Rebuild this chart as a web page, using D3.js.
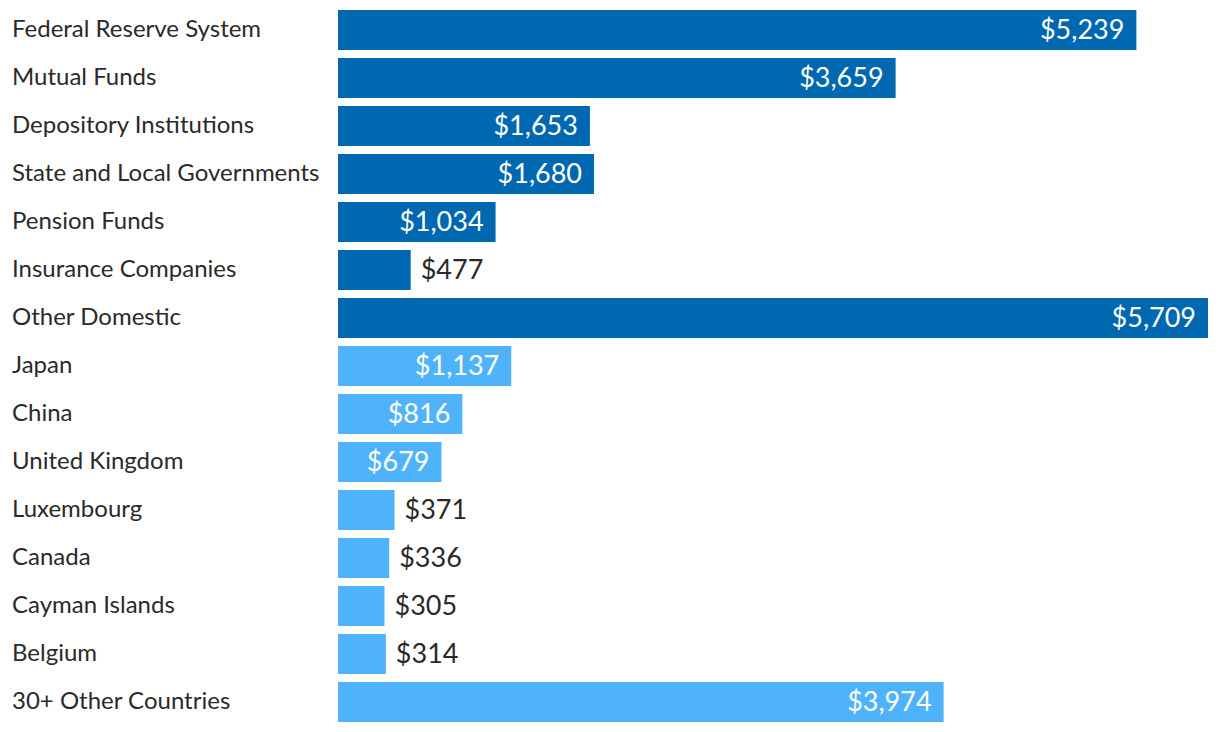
<!DOCTYPE html>
<html><head><meta charset="utf-8">
<script src="https://cdn.jsdelivr.net/npm/d3@7"></script>
<style>body{margin:0;background:#fff;} svg{display:block;}</style>
</head><body>
<svg id="c" width="1220" height="732"></svg>
<script>
const categories = ["Federal Reserve System","Mutual Funds","Depository Institutions","State and Local Governments","Pension Funds","Insurance Companies","Other Domestic","Japan","China","United Kingdom","Luxembourg","Canada","Cayman Islands","Belgium","30+ Other Countries"];
const values = [5239,3659,1653,1680,1034,477,5709,1137,816,679,371,336,305,314,3974];
const groups = ["domestic","domestic","domestic","domestic","domestic","domestic","domestic","foreign","foreign","foreign","foreign","foreign","foreign","foreign","foreign"];
const colors = {domestic:"#0068b1", foreign:"#4fb3fb"};

const svg = d3.select("#c");
const x = d3.scaleLinear().domain([0, d3.max(values)]).range([338, 1208]);
const y = d3.scaleBand().domain(categories).range([10, 722]).paddingInner(8/48).paddingOuter(0);
const data = categories.map((c,i)=>({c, v:values[i], g:groups[i]}));
const fmt = d3.format("$,");

svg.selectAll("text.cat").data(data).join("text")
  .attr("class","cat")
  .attr("x",12).attr("y",d=>y(d.c)+y.bandwidth()/2+7)
  .style("font-family","Lato, sans-serif").style("font-size","24px").style("fill","#2a2a2a")
  .text(d=>d.c);

svg.selectAll("rect.bar").data(data).join("rect")
  .attr("class","bar")
  .attr("x",x(0)).attr("y",d=>y(d.c))
  .attr("width",d=>x(d.v)-x(0)).attr("height",y.bandwidth())
  .attr("fill",d=>colors[d.g]);

svg.selectAll("text.val").data(data).join("text")
  .attr("class","val")
  .attr("y",d=>y(d.c)+y.bandwidth()/2+8.5)
  .style("font-family","Lato, sans-serif").style("font-size","27px")
  .text(d=>fmt(d.v))
  .each(function(d){
    const w = this.getComputedTextLength();
    const bw = x(d.v)-x(0);
    const s = d3.select(this);
    if (bw > w + 20) {
      s.attr("x", x(d.v)-12).attr("text-anchor","end").style("fill","#fff");
    } else {
      s.attr("x", x(d.v)+10).attr("text-anchor","start").style("fill","#2a2a2a");
    }
  });
</script>
</body></html>
